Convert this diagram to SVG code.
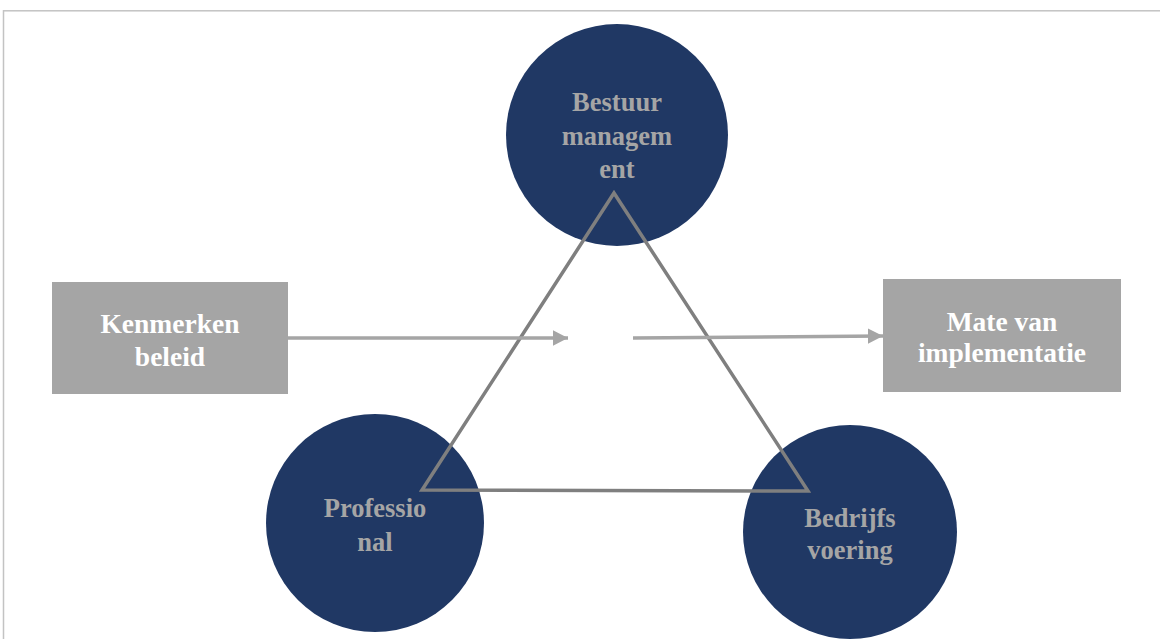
<svg xmlns="http://www.w3.org/2000/svg" width="1160" height="639" viewBox="0 0 1160 639">
  <style>
    .frame { fill: none; stroke: #c3c3c3; stroke-width: 1.5; }
    .circle { fill: #203864; }
    .box { fill: #a5a5a5; }
    .ctext { font-family: "Liberation Serif", "Times New Roman", serif; font-weight: bold; font-size: 26.5px; fill: #a5a5a5; text-anchor: middle; }
    .btext { font-family: "Liberation Serif", "Times New Roman", serif; font-weight: bold; font-size: 27.5px; fill: #ffffff; text-anchor: middle; }
    .tri { fill: none; stroke: #7f7f7f; stroke-width: 3.5; stroke-linejoin: miter; }
    .arrow { fill: none; stroke: #a5a5a5; stroke-width: 3.5; }
  </style>
  <defs>
    <marker id="head" markerWidth="5" markerHeight="5" refX="4.4" refY="2.5" orient="auto" markerUnits="strokeWidth">
      <path d="M0,0.25 L4.4,2.5 L0,4.75 Z" fill="#a5a5a5"/>
    </marker>
  </defs>

  <rect class="frame" x="3.5" y="10.8" width="1170" height="640"/>

  <g id="node-bestuur">
    <circle class="circle" cx="617" cy="135" r="111"/>
    <text class="ctext" x="617" y="111">Bestuur</text>
    <text class="ctext" x="617" y="145">managem</text>
    <text class="ctext" x="617" y="178">ent</text>
  </g>

  <g id="node-professional">
    <circle class="circle" cx="375" cy="523" r="109"/>
    <text class="ctext" x="375" y="517">Professio</text>
    <text class="ctext" x="375" y="551">nal</text>
  </g>

  <g id="node-bedrijfsvoering">
    <circle class="circle" cx="850" cy="532" r="107"/>
    <text class="ctext" x="850" y="527">Bedrijfs</text>
    <text class="ctext" x="850" y="559">voering</text>
  </g>

  <g id="triangle">
    <polygon class="tri" points="614,193 422,490 808,491"/>
  </g>

  <g id="node-kenmerken">
    <rect class="box" x="52" y="282" width="236" height="112"/>
    <text class="btext" x="170" y="333">Kenmerken</text>
    <text class="btext" x="170" y="366">beleid</text>
  </g>

  <g id="node-mate">
    <rect class="box" x="883" y="279" width="238" height="113"/>
    <text class="btext" x="1002" y="331">Mate van</text>
    <text class="btext" x="1002" y="362">implementatie</text>
  </g>

  <g id="connectors">
    <line class="arrow" x1="288" y1="338" x2="568" y2="338" marker-end="url(#head)"/>
    <line class="arrow" x1="633" y1="338" x2="883" y2="336" marker-end="url(#head)"/>
  </g>
</svg>
